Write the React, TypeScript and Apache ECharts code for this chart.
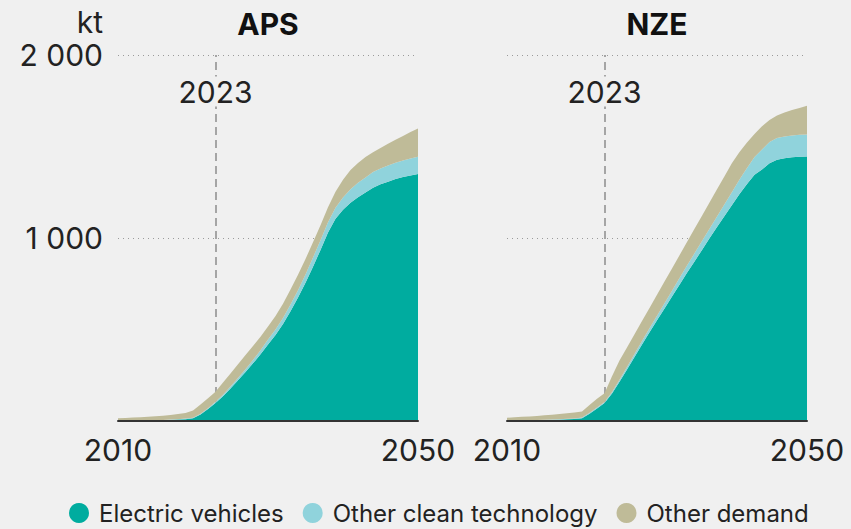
import React, { useEffect, useRef } from 'react';
import * as echarts from 'echarts';

const years: string[] = Array.from({ length: 41 }, (_, i) => String(2010 + i));
const shownYears = ['2010', '2050'];
const yTickLabels = ['', '1 000', '2 000'];
const markerYear = '2023';
const panels = ['APS', 'NZE'];
const seriesNames = ['Electric vehicles', 'Other clean technology', 'Other demand'];

const apsEV = [1, 1, 2, 2, 3, 4, 5, 6, 8, 10, 15, 35, 65, 98, 135, 178, 222, 268, 315, 365, 418, 470, 530, 600, 675, 755, 843, 935, 1030, 1105, 1155, 1192, 1222, 1248, 1275, 1294, 1308, 1322, 1333, 1342, 1350];
const apsClean = [1, 1, 1, 1, 1, 1, 1, 2, 2, 3, 3, 5, 5, 7, 8, 10, 13, 15, 18, 22, 27, 30, 33, 36, 40, 45, 50, 53, 56, 60, 66, 74, 80, 83, 85, 86, 88, 89, 90, 92, 94];
const apsOther = [13, 15, 16, 18, 19, 21, 23, 25, 28, 31, 40, 50, 55, 55, 67, 72, 75, 77, 77, 73, 72, 74, 78, 82, 84, 85, 84, 82, 82, 88, 97, 106, 108, 111, 108, 112, 119, 126, 135, 145, 155];

const nzeEV = [2, 2, 3, 3, 4, 5, 6, 7, 9, 11, 15, 40, 68, 98, 150, 215, 282, 350, 418, 485, 550, 615, 680, 745, 810, 872, 935, 998, 1060, 1120, 1180, 1240, 1295, 1345, 1375, 1408, 1428, 1436, 1441, 1444, 1446];
const nzeClean = [2, 2, 2, 2, 2, 2, 2, 3, 3, 3, 4, 5, 6, 6, 8, 10, 13, 16, 19, 22, 25, 28, 32, 36, 40, 44, 48, 52, 58, 65, 72, 80, 88, 98, 108, 116, 118, 118, 119, 120, 120];
const nzeOther = [14, 16, 18, 20, 22, 24, 26, 28, 30, 33, 33, 43, 48, 48, 87, 105, 107, 108, 109, 111, 115, 119, 122, 125, 128, 134, 139, 144, 148, 153, 158, 150, 139, 125, 127, 121, 124, 132, 139, 147, 156];

const BG = '#f0f0f0';
const COLORS = ['#00ac9f', '#90d3dc', '#bfbb98'];
const TXT = '#222222';
const FONT = 'Inter';

export default function App() {
  const ref = useRef<HTMLDivElement>(null);
  useEffect(() => {
    document.body.style.margin = '0';
    document.body.style.background = BG;
    const chart = echarts.init(ref.current!, null, { renderer: 'svg' });
    const gridLefts = [118, 507];
    const data = [
      [apsEV, apsClean, apsOther],
      [nzeEV, nzeClean, nzeOther],
    ];
    const series: any[] = [];
    data.forEach((set, p) => {
      set.forEach((vals, k) => {
        const s: any = {
          type: 'line',
          name: seriesNames[k],
          data: vals,
          xAxisIndex: p,
          yAxisIndex: p,
          stack: panels[p],
          symbol: 'none',
          silent: true,
          lineStyle: { width: 0 },
          itemStyle: { color: COLORS[k] },
          areaStyle: { color: COLORS[k], opacity: 1 },
        };
        if (k === 0) {
          s.markLine = {
            silent: true,
            z: 1,
            symbol: ['none', 'none'],
            label: { show: false },
            lineStyle: { color: '#8c8c8c', type: [8, 5], width: 1.5 },
            data: [{ xAxis: markerYear }],
          };
          s.markPoint = {
            silent: true,
            symbol: 'rect',
            symbolSize: [82, 30],
            itemStyle: { color: BG },
            label: {
              show: true,
              position: 'inside',
              formatter: markerYear,
              fontSize: 30,
              fontFamily: FONT,
              color: TXT,
            },
            data: [{ coord: [markerYear, 1800] }],
          };
        }
        series.push(s);
      });
    });

    const option: any = {
      animation: false,
      backgroundColor: BG,
      textStyle: { fontFamily: FONT },
      grid: gridLefts.map((l) => ({ left: l, width: 300, top: 55, height: 366, containLabel: false })),
      xAxis: gridLefts.map((_, i) => ({
        type: 'category',
        gridIndex: i,
        data: years,
        boundaryGap: false,
        axisLine: { show: true, lineStyle: { color: '#333', width: 2 } },
        axisTick: { show: false },
        axisLabel: {
          interval: (_i: number, v: string) => shownYears.includes(v),
          fontSize: 30,
          fontFamily: FONT,
          color: TXT,
          margin: 14,
        },
        splitLine: { show: false },
        z: 3,
      })),
      yAxis: gridLefts.map((_, i) => ({
        type: 'value',
        gridIndex: i,
        min: 0,
        max: 2000,
        interval: 1000,
        axisLine: { show: false },
        axisTick: { show: false },
        axisLabel: {
          show: i === 0,
          fontSize: 30,
          fontFamily: FONT,
          color: TXT,
          margin: 15,
          formatter: (v: number) => yTickLabels[Math.round(v / 1000)],
        },
        splitLine: { show: true, lineStyle: { color: '#9a9a9a', type: [1, 4], width: 1 } },
      })),
      legend: {
        left: 64,
        top: 496,
        icon: 'circle',
        itemWidth: 20,
        itemHeight: 20,
        itemGap: 19,
        data: seriesNames,
        textStyle: { fontSize: 24, fontFamily: FONT, color: TXT, padding: [0, 0, 0, 5] },
      },
      graphic: [
        {
          type: 'text',
          x: 103,
          y: 7,
          style: { text: 'kt', font: `30px ${FONT}`, fill: TXT, textAlign: 'right', align: 'right', textVerticalAlign: 'top', verticalAlign: 'top' },
        },
        ...panels.map((t, i) => ({
          type: 'text',
          x: gridLefts[i] + 150,
          y: 9,
          style: { text: t, font: `bold 30px ${FONT}`, fill: '#111', textAlign: 'center', align: 'center', textVerticalAlign: 'top', verticalAlign: 'top' },
        })),
      ],
      series,
    };
    chart.setOption(option);
    return () => chart.dispose();
  }, []);
  return (
    <div
      ref={ref}
      style={{ position: 'fixed', left: 0, top: 0, width: 851, height: 529, background: BG }}
    />
  );
}
